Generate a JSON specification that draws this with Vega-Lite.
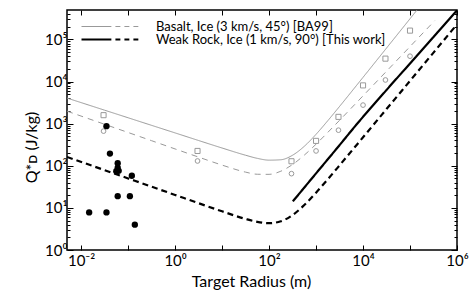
{
  "$schema": "https://vega.github.io/schema/vega-lite/v6.json",
  "width": 390,
  "height": 240,
  "autosize": {"type": "none"},
  "padding": {"left": 67, "top": 10, "right": 18, "bottom": 50},
  "background": "white",
  "config": {
    "view": {"stroke": "black", "strokeWidth": 1.5},
    "font": "Lato",
    "axis": {"labelFont": "Lato", "titleFont": "Lato", "labelColor": "black", "titleColor": "black", "tickColor": "black", "grid": false, "domain": false, "labelOverlap": false, "labelFlush": false, "titleFontWeight": "normal", "tickWidth": 1}
  },
  "datasets": {
    "curves": [
      {"series": "ba_rock", "source": "Basalt, Ice (3 km/s, 45°) [BA99]", "r": 0.005, "q": 4055},
      {"series": "ba_rock", "source": "Basalt, Ice (3 km/s, 45°) [BA99]", "r": 0.0316, "q": 2089},
      {"series": "ba_rock", "source": "Basalt, Ice (3 km/s, 45°) [BA99]", "r": 0.1, "q": 1380},
      {"series": "ba_rock", "source": "Basalt, Ice (3 km/s, 45°) [BA99]", "r": 0.316, "q": 912},
      {"series": "ba_rock", "source": "Basalt, Ice (3 km/s, 45°) [BA99]", "r": 1, "q": 603},
      {"series": "ba_rock", "source": "Basalt, Ice (3 km/s, 45°) [BA99]", "r": 3.16, "q": 398},
      {"series": "ba_rock", "source": "Basalt, Ice (3 km/s, 45°) [BA99]", "r": 10, "q": 264},
      {"series": "ba_rock", "source": "Basalt, Ice (3 km/s, 45°) [BA99]", "r": 31.6, "q": 178},
      {"series": "ba_rock", "source": "Basalt, Ice (3 km/s, 45°) [BA99]", "r": 56.2, "q": 150},
      {"series": "ba_rock", "source": "Basalt, Ice (3 km/s, 45°) [BA99]", "r": 100, "q": 136},
      {"series": "ba_rock", "source": "Basalt, Ice (3 km/s, 45°) [BA99]", "r": 178, "q": 139},
      {"series": "ba_rock", "source": "Basalt, Ice (3 km/s, 45°) [BA99]", "r": 316, "q": 178},
      {"series": "ba_rock", "source": "Basalt, Ice (3 km/s, 45°) [BA99]", "r": 562, "q": 290},
      {"series": "ba_rock", "source": "Basalt, Ice (3 km/s, 45°) [BA99]", "r": 1000, "q": 559},
      {"series": "ba_rock", "source": "Basalt, Ice (3 km/s, 45°) [BA99]", "r": 1778, "q": 1176},
      {"series": "ba_rock", "source": "Basalt, Ice (3 km/s, 45°) [BA99]", "r": 3162, "q": 2562},
      {"series": "ba_rock", "source": "Basalt, Ice (3 km/s, 45°) [BA99]", "r": 10000, "q": 12590},
      {"series": "ba_rock", "source": "Basalt, Ice (3 km/s, 45°) [BA99]", "r": 31623, "q": 62390},
      {"series": "ba_rock", "source": "Basalt, Ice (3 km/s, 45°) [BA99]", "r": 100000, "q": 309700},
      {"series": "ba_rock", "source": "Basalt, Ice (3 km/s, 45°) [BA99]", "r": 335000, "q": 1667000},
      {"series": "ba_ice", "source": "Basalt, Ice (3 km/s, 45°) [BA99]", "r": 0.005, "q": 1982},
      {"series": "ba_ice", "source": "Basalt, Ice (3 km/s, 45°) [BA99]", "r": 0.0316, "q": 966},
      {"series": "ba_ice", "source": "Basalt, Ice (3 km/s, 45°) [BA99]", "r": 0.1, "q": 617},
      {"series": "ba_ice", "source": "Basalt, Ice (3 km/s, 45°) [BA99]", "r": 0.316, "q": 394},
      {"series": "ba_ice", "source": "Basalt, Ice (3 km/s, 45°) [BA99]", "r": 1, "q": 251},
      {"series": "ba_ice", "source": "Basalt, Ice (3 km/s, 45°) [BA99]", "r": 3.16, "q": 160.7},
      {"series": "ba_ice", "source": "Basalt, Ice (3 km/s, 45°) [BA99]", "r": 10, "q": 103.7},
      {"series": "ba_ice", "source": "Basalt, Ice (3 km/s, 45°) [BA99]", "r": 31.6, "q": 70.7},
      {"series": "ba_ice", "source": "Basalt, Ice (3 km/s, 45°) [BA99]", "r": 56.2, "q": 62.9},
      {"series": "ba_ice", "source": "Basalt, Ice (3 km/s, 45°) [BA99]", "r": 100, "q": 62.6},
      {"series": "ba_ice", "source": "Basalt, Ice (3 km/s, 45°) [BA99]", "r": 178, "q": 74.3},
      {"series": "ba_ice", "source": "Basalt, Ice (3 km/s, 45°) [BA99]", "r": 316, "q": 107},
      {"series": "ba_ice", "source": "Basalt, Ice (3 km/s, 45°) [BA99]", "r": 562, "q": 178.9},
      {"series": "ba_ice", "source": "Basalt, Ice (3 km/s, 45°) [BA99]", "r": 1000, "q": 326},
      {"series": "ba_ice", "source": "Basalt, Ice (3 km/s, 45°) [BA99]", "r": 1778, "q": 620},
      {"series": "ba_ice", "source": "Basalt, Ice (3 km/s, 45°) [BA99]", "r": 3162, "q": 1200},
      {"series": "ba_ice", "source": "Basalt, Ice (3 km/s, 45°) [BA99]", "r": 10000, "q": 4578},
      {"series": "ba_ice", "source": "Basalt, Ice (3 km/s, 45°) [BA99]", "r": 31623, "q": 17585},
      {"series": "ba_ice", "source": "Basalt, Ice (3 km/s, 45°) [BA99]", "r": 100000, "q": 67610},
      {"series": "ba_ice", "source": "Basalt, Ice (3 km/s, 45°) [BA99]", "r": 335000, "q": 278000},
      {"series": "tw_rock", "source": "Weak Rock, Ice (1 km/s, 90°) [This work]", "r": 321, "q": 14.3},
      {"series": "tw_rock", "source": "Weak Rock, Ice (1 km/s, 90°) [This work]", "r": 1000, "q": 66},
      {"series": "tw_rock", "source": "Weak Rock, Ice (1 km/s, 90°) [This work]", "r": 3162, "q": 309},
      {"series": "tw_rock", "source": "Weak Rock, Ice (1 km/s, 90°) [This work]", "r": 6699, "q": 857},
      {"series": "tw_rock", "source": "Weak Rock, Ice (1 km/s, 90°) [This work]", "r": 31623, "q": 6310},
      {"series": "tw_rock", "source": "Weak Rock, Ice (1 km/s, 90°) [This work]", "r": 100000, "q": 26900},
      {"series": "tw_rock", "source": "Weak Rock, Ice (1 km/s, 90°) [This work]", "r": 316228, "q": 114800},
      {"series": "tw_rock", "source": "Weak Rock, Ice (1 km/s, 90°) [This work]", "r": 1000000, "q": 489800},
      {"series": "tw_ice", "source": "Weak Rock, Ice (1 km/s, 90°) [This work]", "r": 0.005, "q": 162},
      {"series": "tw_ice", "source": "Weak Rock, Ice (1 km/s, 90°) [This work]", "r": 0.0316, "q": 78.7},
      {"series": "tw_ice", "source": "Weak Rock, Ice (1 km/s, 90°) [This work]", "r": 0.1, "q": 50.1},
      {"series": "tw_ice", "source": "Weak Rock, Ice (1 km/s, 90°) [This work]", "r": 0.316, "q": 31.9},
      {"series": "tw_ice", "source": "Weak Rock, Ice (1 km/s, 90°) [This work]", "r": 1, "q": 20.3},
      {"series": "tw_ice", "source": "Weak Rock, Ice (1 km/s, 90°) [This work]", "r": 3.16, "q": 12.9},
      {"series": "tw_ice", "source": "Weak Rock, Ice (1 km/s, 90°) [This work]", "r": 10, "q": 8.29},
      {"series": "tw_ice", "source": "Weak Rock, Ice (1 km/s, 90°) [This work]", "r": 31.6, "q": 5.46},
      {"series": "tw_ice", "source": "Weak Rock, Ice (1 km/s, 90°) [This work]", "r": 56.2, "q": 4.65},
      {"series": "tw_ice", "source": "Weak Rock, Ice (1 km/s, 90°) [This work]", "r": 100, "q": 4.33},
      {"series": "tw_ice", "source": "Weak Rock, Ice (1 km/s, 90°) [This work]", "r": 178, "q": 4.8},
      {"series": "tw_ice", "source": "Weak Rock, Ice (1 km/s, 90°) [This work]", "r": 316, "q": 6.75},
      {"series": "tw_ice", "source": "Weak Rock, Ice (1 km/s, 90°) [This work]", "r": 562, "q": 11.7},
      {"series": "tw_ice", "source": "Weak Rock, Ice (1 km/s, 90°) [This work]", "r": 1000, "q": 23.0},
      {"series": "tw_ice", "source": "Weak Rock, Ice (1 km/s, 90°) [This work]", "r": 1778, "q": 47.9},
      {"series": "tw_ice", "source": "Weak Rock, Ice (1 km/s, 90°) [This work]", "r": 3162, "q": 102.2},
      {"series": "tw_ice", "source": "Weak Rock, Ice (1 km/s, 90°) [This work]", "r": 10000, "q": 475},
      {"series": "tw_ice", "source": "Weak Rock, Ice (1 km/s, 90°) [This work]", "r": 31623, "q": 2221},
      {"series": "tw_ice", "source": "Weak Rock, Ice (1 km/s, 90°) [This work]", "r": 100000, "q": 10400},
      {"series": "tw_ice", "source": "Weak Rock, Ice (1 km/s, 90°) [This work]", "r": 316228, "q": 48700},
      {"series": "tw_ice", "source": "Weak Rock, Ice (1 km/s, 90°) [This work]", "r": 1000000, "q": 228000}
    ],
    "points": [
      {"kind": "sq", "r": 0.03, "q": 1590},
      {"kind": "sq", "r": 3, "q": 225},
      {"kind": "sq", "r": 300, "q": 128},
      {"kind": "sq", "r": 1000, "q": 390},
      {"kind": "sq", "r": 3000, "q": 1450},
      {"kind": "sq", "r": 10000, "q": 8100},
      {"kind": "sq", "r": 30000, "q": 35000},
      {"kind": "sq", "r": 100000, "q": 162000},
      {"kind": "ci", "r": 0.03, "q": 665},
      {"kind": "ci", "r": 3, "q": 130},
      {"kind": "ci", "r": 300, "q": 65},
      {"kind": "ci", "r": 1000, "q": 225},
      {"kind": "ci", "r": 3000, "q": 700},
      {"kind": "ci", "r": 10000, "q": 2760},
      {"kind": "ci", "r": 30000, "q": 10900},
      {"kind": "ci", "r": 100000, "q": 40000},
      {"kind": "dot", "r": 0.0346, "q": 870},
      {"kind": "dot", "r": 0.041, "q": 195},
      {"kind": "dot", "r": 0.06, "q": 115},
      {"kind": "dot", "r": 0.06, "q": 90},
      {"kind": "dot", "r": 0.056, "q": 74},
      {"kind": "dot", "r": 0.063, "q": 76},
      {"kind": "dot", "r": 0.12, "q": 58},
      {"kind": "dot", "r": 0.06, "q": 19},
      {"kind": "dot", "r": 0.109, "q": 19},
      {"kind": "dot", "r": 0.0148, "q": 7.8},
      {"kind": "dot", "r": 0.0346, "q": 7.8},
      {"kind": "dot", "r": 0.139, "q": 4.0}
    ]
  },
  "layer": [
    {
      "data": {"name": "curves"},
      "mark": {"type": "line", "clip": true, "interpolate": "monotone"},
      "encoding": {
        "x": {"field": "r", "type": "quantitative", "scale": {"type": "log", "domain": [0.005, 1000000], "nice": false},
          "axis": {"orient": "bottom", "values": [0.01, 0.1, 1, 10, 100, 1000, 10000, 100000, 1000000],
            "labelExpr": "datum.value == 0.01 ? '10⁻²' : datum.value == 1 ? '10⁰' : datum.value == 100 ? '10²' : datum.value == 10000 ? '10⁴' : datum.value == 1000000 ? '10⁶' : ''",
            "tickSize": -5, "labelPadding": 8, "labelFontSize": 15, "title": "Target Radius (m)", "titleFontSize": 16, "titlePadding": 5, "titleX": 184}},
        "y": {"field": "q", "type": "quantitative", "scale": {"type": "log", "domain": [1, 500000], "nice": false},
          "axis": {"orient": "left", "values": [1,2,3,4,5,6,7,8,9,10,20,30,40,50,60,70,80,90,100,200,300,400,500,600,700,800,900,1000,2000,3000,4000,5000,6000,7000,8000,9000,10000,20000,30000,40000,50000,60000,70000,80000,90000,100000,200000,300000,400000],
            "labelExpr": "datum.value == 1 ? '10⁰' : datum.value == 10 ? '10¹' : datum.value == 100 ? '10²' : datum.value == 1000 ? '10³' : datum.value == 10000 ? '10⁴' : datum.value == 100000 ? '10⁵' : ''",
            "tickSize": {"condition": {"test": "datum.value == 1 || datum.value == 10 || datum.value == 100 || datum.value == 1000 || datum.value == 10000 || datum.value == 100000", "value": -6}, "value": -3},
            "labelPadding": 6, "labelFontSize": 15, "title": "Q*ᴅ (J/kg)", "titleFontSize": 16, "titlePadding": 5, "titleY": 137}},
        "detail": {"field": "series"},
        "color": {"field": "source", "type": "nominal",
          "scale": {"domain": ["Basalt, Ice (3 km/s, 45°) [BA99]", "Weak Rock, Ice (1 km/s, 90°) [This work]"], "range": ["#999999", "#000000"]},
          "legend": {"orient": "none", "legendX": 14, "legendY": -13, "title": null, "values": ["Basalt, Ice (3 km/s, 45°) [BA99]"],
            "symbolType": "M-1,0H0.03M0.17,0H0.34M0.48,0H0.65M0.79,0H0.96",
            "symbolSize": 3364, "symbolStrokeWidth": 1, "labelFontSize": 13, "labelFont": "Lato", "labelColor": "black",
            "labelOffset": 16, "padding": 0, "labelLimit": 400}},
        "strokeDash": {"field": "series", "type": "nominal",
          "scale": {"domain": ["ba_rock", "ba_ice", "tw_rock", "tw_ice"], "range": [[1, 0], [6, 5], [1, 0], [6, 4]]},
          "legend": {"orient": "none", "legendX": 13, "legendY": -1, "title": null, "values": ["tw_rock"],
            "labelExpr": "'Weak Rock, Ice (1 km/s, 90°) [This work]'",
            "symbolType": "M-1,0H0.03M0.17,0H0.34M0.48,0H0.65M0.79,0H0.96",
            "symbolSize": 3364, "symbolStrokeWidth": 2.2, "symbolStrokeColor": "black", "labelFontSize": 13, "labelFont": "Lato", "labelColor": "black",
            "labelOffset": 15, "padding": 0, "labelLimit": 400}},
        "strokeWidth": {"condition": {"test": "datum.series === 'tw_rock' || datum.series === 'tw_ice'", "value": 2.2}, "value": 1}
      }
    },
    {
      "data": {"name": "points"},
      "transform": [{"filter": "datum.kind === 'sq'"}],
      "mark": {"type": "point", "shape": "square", "size": 26, "filled": false, "stroke": "#999999", "strokeWidth": 1, "opacity": 1},
      "encoding": {
        "x": {"field": "r", "type": "quantitative", "scale": {"type": "log", "domain": [0.005, 1000000], "nice": false},
          "axis": {"orient": "top", "values": [0.01, 0.1, 1, 10, 100, 1000, 10000, 100000, 1000000], "labels": false, "tickSize": -5, "title": null}},
        "y": {"field": "q", "type": "quantitative", "scale": {"type": "log", "domain": [1, 500000], "nice": false},
          "axis": {"orient": "right", "values": [1,2,3,4,5,6,7,8,9,10,20,30,40,50,60,70,80,90,100,200,300,400,500,600,700,800,900,1000,2000,3000,4000,5000,6000,7000,8000,9000,10000,20000,30000,40000,50000,60000,70000,80000,90000,100000,200000,300000,400000],
            "labels": false, "title": null,
            "tickSize": {"condition": {"test": "datum.value == 1 || datum.value == 10 || datum.value == 100 || datum.value == 1000 || datum.value == 10000 || datum.value == 100000", "value": -6}, "value": -3}}}
      }
    },
    {
      "data": {"name": "points"},
      "transform": [{"filter": "datum.kind === 'ci'"}],
      "mark": {"type": "point", "shape": "circle", "size": 22, "filled": false, "stroke": "#999999", "strokeWidth": 1, "opacity": 1},
      "encoding": {
        "x": {"field": "r", "type": "quantitative", "axis": null},
        "y": {"field": "q", "type": "quantitative", "axis": null}
      }
    },
    {
      "data": {"name": "points"},
      "transform": [{"filter": "datum.kind === 'dot'"}],
      "mark": {"type": "circle", "size": 40, "color": "black", "opacity": 1},
      "encoding": {
        "x": {"field": "r", "type": "quantitative", "axis": null},
        "y": {"field": "q", "type": "quantitative", "axis": null}
      }
    }
  ],
  "resolve": {"axis": {"x": "independent", "y": "independent"}}
}
